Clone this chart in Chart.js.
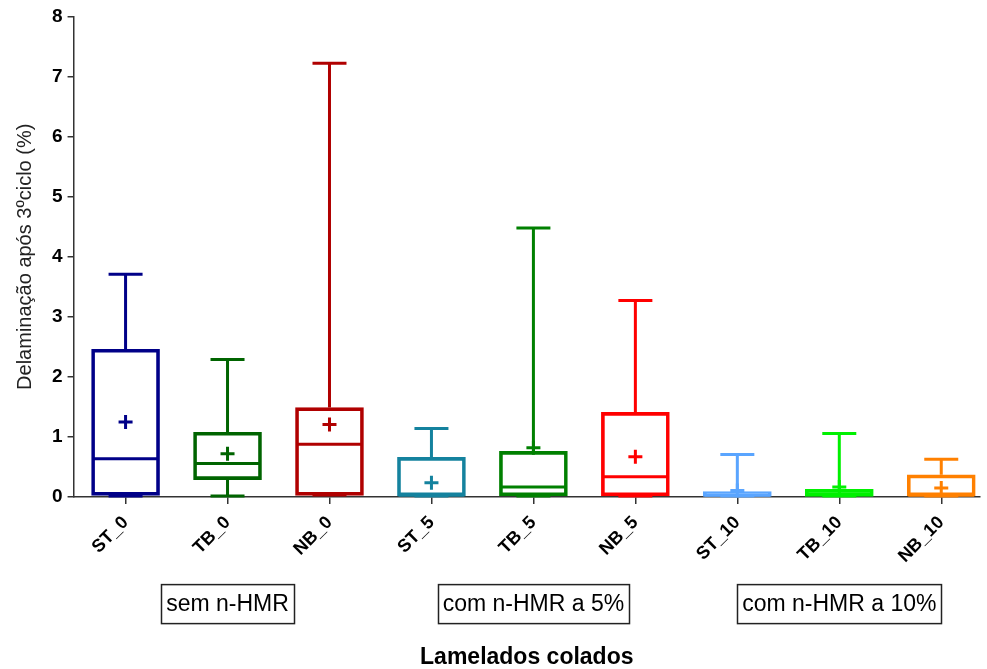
<!DOCTYPE html>
<html lang="pt">
<head>
<meta charset="UTF-8">
<title>Delaminação após 3º ciclo</title>
<script src="https://cdn.jsdelivr.net/npm/chart.js@4.4.1/dist/chart.umd.min.js"></script>
<style>
  body { margin: 0; background: #fff; }
  #wrap { width: 987px; height: 669px; }
</style>
</head>
<body>
<div id="wrap"><canvas id="boxChart"></canvas></div>
<script>
// Box plot data
const labels  = ['ST_0', 'TB_0', 'NB_0', 'ST_5', 'TB_5', 'NB_5', 'ST_10', 'TB_10', 'NB_10'];
const mins    = [0.00, 0.00, 0.02, 0.00, 0.00, 0.00, 0.00, 0.00, 0.00];
const q1s     = [0.03, 0.29, 0.03, 0.02, 0.02, 0.02, 0.00, 0.01, 0.02];
const medians = [0.64, 0.56, 0.88, 0.03, 0.17, 0.34, 0.03, 0.05, 0.03];
const q3s     = [2.46, 1.08, 1.49, 0.66, 0.76, 1.41, 0.09, 0.13, 0.37];
const maxs    = [3.71, 2.29, 7.22, 1.14, 4.48, 3.27, 0.71, 1.06, 0.63];
const means   = [1.25, 0.72, 1.21, 0.24, 0.82, 0.67, 0.11, 0.17, 0.15];
const colors  = ['#000088', '#006400', '#B00000', '#14829E', '#008000', '#FF0000', '#5AA5FF', '#00F000', '#FF8000'];

// group captions under the axis, centred on a category index
const groups      = ['sem n-HMR', 'com n-HMR a 5%', 'com n-HMR a 10%'];
const groupCenter = [1, 4, 7];

const FONT = '"Liberation Sans", Arial, sans-serif';

// whiskers, medians, means and group boxes
const boxExtras = {
    id: 'boxExtras',
    afterDatasetsDraw(chart) {
        const ctx = chart.ctx;
        const xs = chart.scales.x, ys = chart.scales.y;
        ctx.save();
        ctx.lineWidth = 3;
        labels.forEach((l, i) => {
            const x = xs.getPixelForValue(i);
            const half = 34, cap = 17;
            ctx.strokeStyle = colors[i];
            ctx.beginPath();
            // upper whisker
            ctx.moveTo(x, ys.getPixelForValue(q3s[i]));
            ctx.lineTo(x, ys.getPixelForValue(maxs[i]));
            ctx.moveTo(x - cap, ys.getPixelForValue(maxs[i]));
            ctx.lineTo(x + cap, ys.getPixelForValue(maxs[i]));
            // lower whisker
            ctx.moveTo(x, ys.getPixelForValue(q1s[i]));
            ctx.lineTo(x, ys.getPixelForValue(mins[i]));
            ctx.moveTo(x - cap, ys.getPixelForValue(mins[i]) - 1);
            ctx.lineTo(x + cap, ys.getPixelForValue(mins[i]) - 1);
            // median
            ctx.moveTo(x - half + 1, ys.getPixelForValue(medians[i]));
            ctx.lineTo(x + half - 1, ys.getPixelForValue(medians[i]));
            ctx.stroke();
            // mean "+"
            const my = ys.getPixelForValue(means[i]);
            ctx.beginPath();
            ctx.moveTo(x - 7, my);
            ctx.lineTo(x + 7, my);
            ctx.moveTo(x, my - 7);
            ctx.lineTo(x, my + 7);
            ctx.stroke();
        });

        // group caption boxes
        ctx.font = '23px ' + FONT;
        ctx.textAlign = 'center';
        ctx.textBaseline = 'middle';
        ctx.lineWidth = 1.5;
        ctx.strokeStyle = '#222';
        ctx.fillStyle = '#000';
        const cy = chart.chartArea.bottom + 107;
        groups.forEach((g, k) => {
            const cx = xs.getPixelForValue(groupCenter[k]);
            const w = ctx.measureText(g).width + 10;
            ctx.strokeRect(Math.round(cx - w / 2) + 0.5, cy - 19.5, Math.round(w), 39);
            ctx.fillText(g, cx, cy + 1);
        });
        ctx.restore();
    }
};

new Chart(document.getElementById('boxChart'), {
    type: 'bar',
    data: {
        datasets: [{
            data: labels.map((l, i) => ({ x: i, y: [q1s[i], q3s[i]] })),
            backgroundColor: 'rgba(255,255,255,0)',
            borderColor: colors,
            borderWidth: 3,
            borderSkipped: false,
            barThickness: 68
        }]
    },
    options: {
        responsive: true,
        maintainAspectRatio: false,
        animation: false,
        layout: { padding: { top: 8, right: 7, left: 13, bottom: 0 } },
        plugins: {
            legend: { display: false },
            tooltip: { enabled: false }
        },
        scales: {
            x: {
                type: 'linear',
                offset: false,
                min: -0.51,
                max: 8.38,
                afterBuildTicks: scale => { scale.ticks = labels.map((l, i) => ({ value: i })); },
                ticks: {
                    autoSkip: false,
                    minRotation: 45,
                    maxRotation: 45,
                    padding: 8,
                    color: '#000',
                    font: { family: FONT, size: 18, weight: 'bold' },
                    callback: v => labels[v]
                },
                grid: { offset: false, drawOnChartArea: false, drawTicks: true, tickLength: 7, color: '#333', lineWidth: 1.5 },
                border: { color: '#333', width: 1.5 },
                title: {
                    display: true,
                    text: 'Lamelados colados',
                    color: '#000',
                    font: { family: FONT, size: 23, weight: 'bold', lineHeight: 1.0 },
                    padding: { top: 71, bottom: 0 }
                }
            },
            y: {
                min: 0,
                max: 8,
                ticks: {
                    stepSize: 1,
                    padding: 5,
                    color: '#000',
                    font: { family: FONT, size: 19, weight: 'bold' }
                },
                grid: { drawOnChartArea: false, drawTicks: true, tickLength: 6, color: '#333', lineWidth: 1.5 },
                border: { color: '#333', width: 1.5 },
                title: {
                    display: true,
                    text: 'Delaminação após 3ºciclo (%)',
                    color: '#222',
                    font: { family: FONT, size: 20 },
                    padding: { top: 0, bottom: 10 }
                }
            }
        }
    },
    plugins: [boxExtras]
});
</script>
</body>
</html>
